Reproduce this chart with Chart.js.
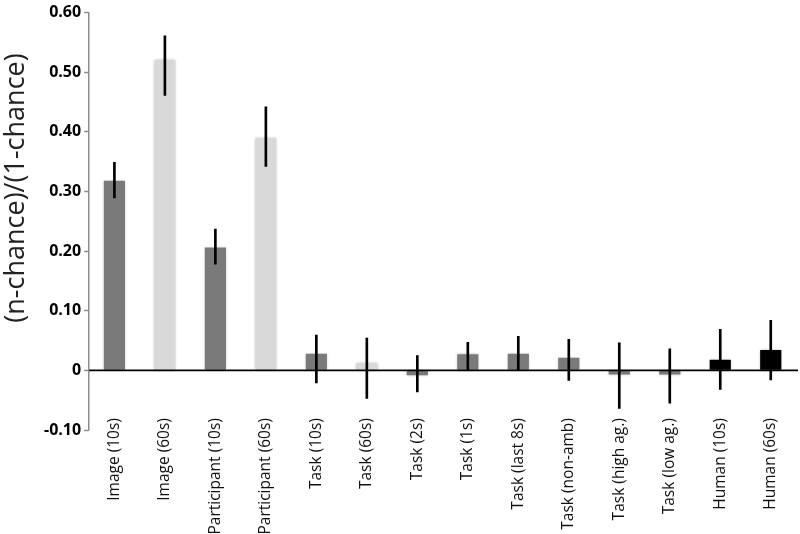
<!DOCTYPE html>
<html>
<head>
<meta charset="utf-8">
<script src="https://cdn.jsdelivr.net/npm/chart.js@4/dist/chart.umd.min.js"></script>
<style>
  html, body { margin: 0; padding: 0; background: #fff; }
  #wrap { width: 800px; height: 534px; position: relative; }
</style>
</head>
<body>
<div id="wrap"><canvas id="chart"></canvas></div>
<script>
  // categories and values
  const LABELS = ['Image (10s)', 'Image (60s)', 'Participant (10s)', 'Participant (60s)',
                  'Task (10s)', 'Task (60s)', 'Task (2s)', 'Task (1s)', 'Task (last 8s)',
                  'Task (non-amb)', 'Task (high ag.)', 'Task (low ag.)', 'Human (10s)', 'Human (60s)'];
  const SCORES = [0.318, 0.520, 0.206, 0.390, 0.028, 0.012, -0.008, 0.027, 0.028,
                  0.021, -0.007, -0.007, 0.018, 0.034];
  const ERR_LO = [0.289, 0.461, 0.178, 0.342, -0.021, -0.047, -0.036, 0.0, 0.0,
                  -0.017, -0.064, -0.055, -0.032, -0.016];
  const ERR_HI = [0.349, 0.561, 0.237, 0.442, 0.059, 0.054, 0.025, 0.047, 0.057,
                  0.052, 0.046, 0.036, 0.069, 0.084];
  // shade group per bar: d = dark grey, l = light grey, k = black
  const SHADES = ['d', 'l', 'd', 'l', 'd', 'l', 'd', 'd', 'd', 'd', 'd', 'd', 'k', 'k'];
  const Y_TICKS = [-0.1, 0, 0.1, 0.2, 0.3, 0.4, 0.5, 0.6];

  const SHADE_COLORS = { d: '#7a7a7a', l: '#d9d9d9', k: '#000000' };
  const AXIS_GREY = '#8c8c8c';

  // soft edge on the bars, like the original
  const barShadow = {
    id: 'barShadow',
    beforeDatasetDraw(chart, args) {
      if (args.index !== 1) return;
      chart.ctx.save();
      chart.ctx.shadowColor = 'rgba(0,0,0,0.25)';
      chart.ctx.shadowBlur = 3;
    },
    afterDatasetDraw(chart, args) {
      if (args.index !== 1) return;
      chart.ctx.restore();
    },
  };

  // zero line over the bars, y title, and the rotated category names
  // (the names overlap the bottom of the plot area, so chart.js ticks can't do it)
  const extras = {
    id: 'extras',
    afterDatasetsDraw(chart) {
      const { ctx, chartArea, scales } = chart;
      const y0 = scales.y.getPixelForValue(0);
      ctx.save();
      ctx.strokeStyle = '#000';
      ctx.lineWidth = 1.6;
      ctx.beginPath();
      ctx.moveTo(chartArea.left, y0);
      ctx.lineTo(chartArea.right + 2, y0);
      ctx.stroke();
      ctx.restore();
    },
    afterDraw(chart) {
      const { ctx, scales } = chart;
      ctx.save();
      ctx.translate(16, 188);
      ctx.rotate(-Math.PI / 2);
      ctx.font = "27px 'Open Sans', sans-serif";
      ctx.fillStyle = '#222';
      ctx.textAlign = 'center';
      ctx.textBaseline = 'middle';
      ctx.fillText('(n-chance)/(1-chance)', 0, 0);
      ctx.restore();

      const top = scales.y.getPixelForValue(-0.08);
      ctx.save();
      ctx.font = "15.5px 'Open Sans', sans-serif";
      ctx.fillStyle = '#111';
      ctx.textAlign = 'right';
      ctx.textBaseline = 'middle';
      LABELS.forEach((lab, i) => {
        const x = scales.x.getPixelForValue(i);
        ctx.save();
        ctx.translate(x, top);
        ctx.rotate(-Math.PI / 2);
        ctx.fillText(lab, 0, 0);
        ctx.restore();
      });
      ctx.restore();
    },
  };

  new Chart(document.getElementById('chart'), {
    type: 'bar',
    data: {
      labels: LABELS,
      datasets: [
        {
          label: 'error',
          data: LABELS.map((_, i) => [ERR_LO[i], ERR_HI[i]]),
          backgroundColor: '#000',
          barThickness: 2,
          grouped: false,
          order: 0,
        },
        {
          label: 'score',
          data: SCORES,
          backgroundColor: SHADES.map(s => SHADE_COLORS[s]),
          barPercentage: 0.42,
          categoryPercentage: 1,
          grouped: false,
          order: 1,
        },
      ],
    },
    options: {
      responsive: true,
      maintainAspectRatio: false,
      animation: false,
      layout: { padding: { left: 41, right: 4, top: 10, bottom: 104 } },
      plugins: { legend: { display: false }, tooltip: { enabled: false } },
      scales: {
        x: {
          grid: { display: false, drawTicks: false },
          border: { display: false },
          ticks: { display: false },
        },
        y: {
          min: -0.1,
          max: 0.6,
          afterBuildTicks: (axis) => { axis.ticks = Y_TICKS.map(v => ({ value: v })); },
          border: { color: AXIS_GREY, width: 1.5 },
          grid: {
            drawOnChartArea: false,
            tickColor: AXIS_GREY,
            tickWidth: 1.5,
            tickLength: 5,
          },
          ticks: {
            padding: 3,
            color: '#000',
            font: { family: "'Open Sans', sans-serif", size: 16, weight: 'bold' },
            callback: (v) => (v === 0 ? '0' : Number(v).toFixed(2)),
          },
        },
      },
    },
    plugins: [barShadow, extras],
  });
</script>
</body>
</html>
